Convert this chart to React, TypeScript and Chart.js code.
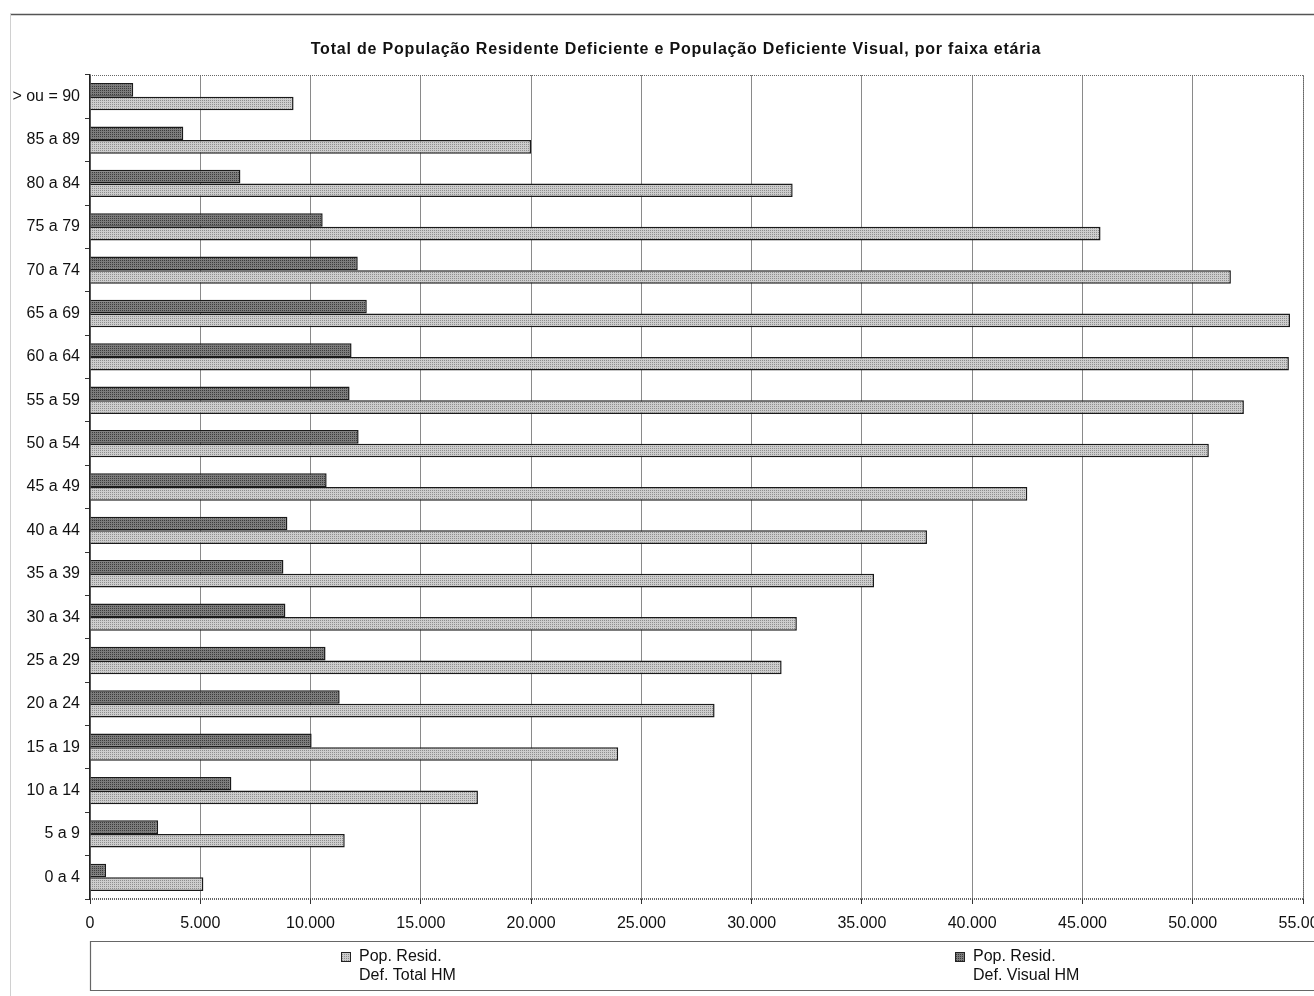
import React, { useEffect, useRef } from 'react';
import { Chart, registerables } from 'chart.js';

Chart.register(...registerables);

const chartTitle = 'Total de População Residente Deficiente e População Deficiente Visual, por faixa etária';

// bottom-to-top
const ageGroups = [
  '0 a 4', '5 a 9', '10 a 14', '15 a 19', '20 a 24', '25 a 29', '30 a 34', '35 a 39',
  '40 a 44', '45 a 49', '50 a 54', '55 a 59', '60 a 64', '65 a 69', '70 a 74',
  '75 a 79', '80 a 84', '85 a 89', '> ou = 90',
];

const totalDeficient = [
  5140, 11550, 17590, 23950, 28320, 31360, 32050, 35550,
  37950, 42500, 50730, 52320, 54360, 54410, 51730,
  45820, 31860, 20000, 9230,
];

const visualDeficient = [
  730, 3090, 6410, 10050, 11320, 10680, 8860, 8770,
  8950, 10730, 12180, 11770, 11860, 12550, 12140,
  10550, 6820, 4230, 1960,
];

const totalLegend = ['Pop. Resid.', 'Def. Total HM'];
const visualLegend = ['Pop. Resid.', 'Def. Visual HM'];

const xMin = 0;
const xMax = 55000;
const xStep = 5000;

const FONT = "'Liberation Sans', Arial, sans-serif";

function makePattern(base: string, dot: string): CanvasPattern | string {
  const c = document.createElement('canvas');
  c.width = 4;
  c.height = 4;
  const g = c.getContext('2d');
  if (!g) return base;
  g.fillStyle = base;
  g.fillRect(0, 0, 4, 4);
  g.fillStyle = dot;
  g.fillRect(0, 0, 1, 1);
  g.fillRect(2, 2, 1, 1);
  g.fillRect(2, 0, 1, 1);
  g.fillRect(0, 2, 1, 1);
  const p = g.createPattern(c, 'repeat');
  return p || base;
}

function formatThousands(v: number): string {
  return String(Math.round(v)).replace(/\B(?=(\d{3})+(?!\d))/g, '.');
}

export default function App() {
  const ref = useRef<HTMLCanvasElement | null>(null);

  useEffect(() => {
    document.body.style.margin = '0';
    const canvas = ref.current;
    if (!canvas) return;

    const lightFill = makePattern('#cdcdcd', '#8e8e8e');
    const darkFill = makePattern('#7c7c7c', '#3c3c3c');

    const framePlugin = {
      id: 'frame',
      beforeDraw(chart: any) {
        const ctx = chart.ctx;
        ctx.save();
        ctx.fillStyle = '#ffffff';
        ctx.fillRect(0, 0, chart.width, chart.height);
        ctx.strokeStyle = '#555';
        ctx.lineWidth = 1.5;
        ctx.beginPath();
        ctx.moveTo(10, 14.5);
        ctx.lineTo(chart.width, 14.5);
        ctx.stroke();
        ctx.strokeStyle = '#d0d0d0';
        ctx.lineWidth = 1;
        ctx.beginPath();
        ctx.moveTo(10.5, 14);
        ctx.lineTo(10.5, chart.height);
        ctx.stroke();

        // title
        ctx.fillStyle = '#111';
        ctx.font = `bold 16px ${FONT}`;
        ctx.textAlign = 'center';
        ctx.textBaseline = 'middle';
        try {
          (ctx as any).letterSpacing = '0.8px';
        } catch (e) {
          /* ignore */
        }
        ctx.fillText(chartTitle, 676, 50);
        try {
          (ctx as any).letterSpacing = '0px';
        } catch (e) {
          /* ignore */
        }
        ctx.restore();
      },
      afterDraw(chart: any) {
        const ctx = chart.ctx;
        const a = chart.chartArea;
        ctx.save();
        // dotted plot border top + right + bottom
        ctx.strokeStyle = '#666';
        ctx.lineWidth = 1;
        ctx.setLineDash([1, 1]);
        ctx.beginPath();
        ctx.moveTo(a.left, Math.round(a.top) + 0.5);
        ctx.lineTo(Math.round(a.right) + 0.5, Math.round(a.top) + 0.5);
        ctx.lineTo(Math.round(a.right) + 0.5, a.bottom);
        ctx.stroke();
        ctx.strokeStyle = '#333';
        ctx.lineWidth = 1.5;
        ctx.beginPath();
        ctx.moveTo(a.left, Math.round(a.bottom));
        ctx.lineTo(a.right, Math.round(a.bottom));
        ctx.stroke();
        ctx.setLineDash([]);

        // legend box
        const boxLeft = 90.5;
        const boxTop = 941.5;
        const boxBottom = 990.5;
        ctx.strokeStyle = '#666';
        ctx.lineWidth = 1.2;
        ctx.beginPath();
        ctx.moveTo(chart.width, boxTop);
        ctx.lineTo(boxLeft, boxTop);
        ctx.lineTo(boxLeft, boxBottom);
        ctx.lineTo(chart.width, boxBottom);
        ctx.stroke();

        const items = [
          { x: 346, lines: totalLegend, ds: 1 },
          { x: 960, lines: visualLegend, ds: 0 },
        ];
        ctx.font = `16px ${FONT}`;
        ctx.textBaseline = 'middle';
        ctx.textAlign = 'left';
        items.forEach((it) => {
          const ds = chart.data.datasets[it.ds];
          ctx.fillStyle = ds.backgroundColor;
          ctx.fillRect(it.x - 5, 952, 10, 10);
          ctx.strokeStyle = '#222';
          ctx.lineWidth = 1;
          ctx.strokeRect(it.x - 5 + 0.5, 952.5, 9, 9);
          ctx.fillStyle = '#111';
          it.lines.forEach((t, i) => {
            ctx.fillText(t, it.x + 13, 957 + i * 19);
          });
        });
        ctx.restore();
      },
    };

    const chart = new Chart(canvas, {
      type: 'bar',
      data: {
        labels: ageGroups,
        datasets: [
          {
            label: visualLegend.join(' '),
            data: visualDeficient,
            backgroundColor: darkFill as any,
            borderColor: '#1a1a1a',
            borderWidth: 1.5,
            categoryPercentage: 0.63,
            barPercentage: 1.0,
          },
          {
            label: totalLegend.join(' '),
            data: totalDeficient,
            backgroundColor: lightFill as any,
            borderColor: '#1a1a1a',
            borderWidth: 1.5,
            categoryPercentage: 0.63,
            barPercentage: 1.0,
          },
        ],
      },
      options: {
        indexAxis: 'y',
        responsive: false,
        animation: false,
        layout: { padding: { top: 75, right: 11, bottom: 53, left: 0 } },
        plugins: {
          legend: { display: false },
          tooltip: { enabled: false },
          title: { display: false },
        },
        scales: {
          x: {
            type: 'linear',
            min: xMin,
            max: xMax,
            ticks: {
              stepSize: xStep,
              color: '#111',
              font: { family: FONT, size: 16 },
              padding: 10,
              maxRotation: 0,
              autoSkip: false,
              callback: (v: any) => formatThousands(Number(v)),
            },
            grid: {
              color: '#8a8a8a',
              lineWidth: 1,
              drawTicks: true,
              tickLength: 5,
              tickColor: '#333',
            },
            border: { display: false },
            afterFit: (scale: any) => {
              scale.height = 44;
              scale.paddingLeft = 0;
              scale.paddingRight = 0;
            },
          },
          y: {
            type: 'category',
            reverse: true,
            offset: true,
            ticks: {
              color: '#111',
              font: { family: FONT, size: 16 },
              padding: 5,
              autoSkip: false,
            },
            grid: {
              drawOnChartArea: false,
              drawTicks: true,
              tickLength: 5,
              tickColor: '#333',
              offset: true,
            },
            border: { display: true, color: '#222', width: 1.5 },
            afterFit: (scale: any) => {
              scale.width = 90;
              scale.paddingTop = 0;
              scale.paddingBottom = 0;
            },
          },
        },
      },
      plugins: [framePlugin],
    } as any);

    return () => {
      chart.destroy();
    };
  }, []);

  return (
    <div style={{ position: 'absolute', left: 0, top: 0, width: 1314, height: 996 }}>
      <canvas ref={ref} width={1314} height={996} style={{ display: 'block', width: 1314, height: 996 }} />
    </div>
  );
}
